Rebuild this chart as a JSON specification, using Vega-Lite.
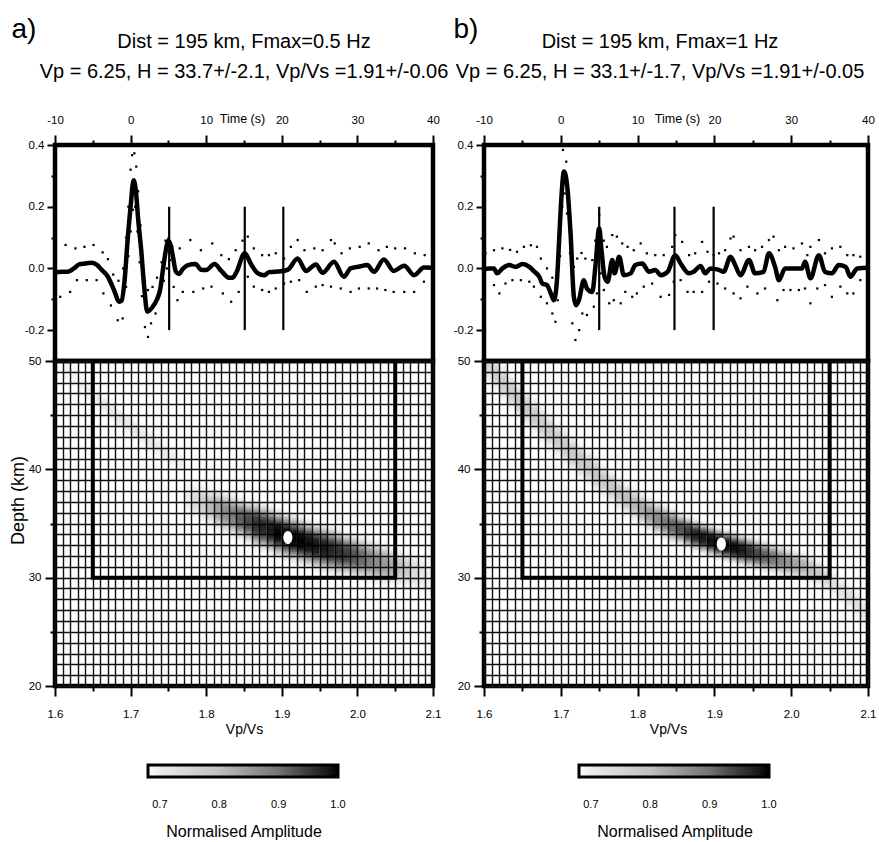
{
"$schema": "https://vega.github.io/schema/vega-lite/v6.json",
"background": "white",
"padding": {"left": 7, "top": 12, "right": 5, "bottom": 0},
"config": {
 "view": {"stroke": "black", "strokeWidth": 4.5},
 "axis": {"domain": false, "grid": false, "tickColor": "black", "tickWidth": 2, "labelFont": "Liberation Sans", "labelFontSize": 11.5, "labelColor": "black", "titleColor": "black", "titleFontWeight": "normal", "titleFont": "Liberation Sans", "labelFlush": false, "labelOverlap": false},
 "title": {"fontWeight": "normal", "color": "black"}
},
"datasets": {
 "wave": [
  {"p":"a","s":"m","t":-10,"v":-0.012},{"p":"a","s":"m","t":-9,"v":-0.011},{"p":"a","s":"m","t":-8.2,"v":-0.01},{"p":"a","s":"m","t":-7.5,"v":0.0},{"p":"a","s":"m","t":-6.8,"v":0.013},{"p":"a","s":"m","t":-6,"v":0.016},{"p":"a","s":"m","t":-5.2,"v":0.018},{"p":"a","s":"m","t":-4.5,"v":0.012},{"p":"a","s":"m","t":-3.8,"v":-0.005},{"p":"a","s":"m","t":-3,"v":-0.027},{"p":"a","s":"m","t":-2.2,"v":-0.07},{"p":"a","s":"m","t":-1.5,"v":-0.108},{"p":"a","s":"m","t":-1.2,"v":-0.105},{"p":"a","s":"m","t":-0.8,"v":-0.04},{"p":"a","s":"m","t":-0.4,"v":0.09},{"p":"a","s":"m","t":0,"v":0.2},{"p":"a","s":"m","t":0.4,"v":0.286},{"p":"a","s":"m","t":0.7,"v":0.25},{"p":"a","s":"m","t":1.0,"v":0.16},{"p":"a","s":"m","t":1.4,"v":0.06},{"p":"a","s":"m","t":1.8,"v":-0.06},{"p":"a","s":"m","t":2.2,"v":-0.14},{"p":"a","s":"m","t":2.9,"v":-0.125},{"p":"a","s":"m","t":3.5,"v":-0.1},{"p":"a","s":"m","t":3.9,"v":-0.07},{"p":"a","s":"m","t":4.3,"v":0.0},{"p":"a","s":"m","t":4.6,"v":0.05},{"p":"a","s":"m","t":5.0,"v":0.09},{"p":"a","s":"m","t":5.3,"v":0.075},{"p":"a","s":"m","t":5.6,"v":0.038},{"p":"a","s":"m","t":6.0,"v":-0.011},{"p":"a","s":"m","t":6.4,"v":-0.018},{"p":"a","s":"m","t":6.9,"v":-0.002},{"p":"a","s":"m","t":7.5,"v":0.01},{"p":"a","s":"m","t":8.6,"v":0.014},{"p":"a","s":"m","t":9.3,"v":-0.004},{"p":"a","s":"m","t":10,"v":-0.005},{"p":"a","s":"m","t":11.1,"v":0.014},{"p":"a","s":"m","t":12,"v":-0.008},{"p":"a","s":"m","t":13,"v":-0.03},{"p":"a","s":"m","t":13.5,"v":-0.03},{"p":"a","s":"m","t":14,"v":-0.012},{"p":"a","s":"m","t":15.1,"v":0.049},{"p":"a","s":"m","t":15.9,"v":0.015},{"p":"a","s":"m","t":16.8,"v":-0.015},{"p":"a","s":"m","t":17.7,"v":-0.022},{"p":"a","s":"m","t":18.3,"v":-0.012},{"p":"a","s":"m","t":19.9,"v":-0.009},{"p":"a","s":"m","t":20.8,"v":-0.004},{"p":"a","s":"m","t":22.1,"v":0.032},{"p":"a","s":"m","t":23.2,"v":-0.008},{"p":"a","s":"m","t":24.5,"v":0.013},{"p":"a","s":"m","t":25.4,"v":-0.014},{"p":"a","s":"m","t":26.9,"v":0.022},{"p":"a","s":"m","t":28.2,"v":-0.027},{"p":"a","s":"m","t":29.1,"v":0.0},{"p":"a","s":"m","t":30.3,"v":0.006},{"p":"a","s":"m","t":31.3,"v":0.011},{"p":"a","s":"m","t":32.2,"v":-0.011},{"p":"a","s":"m","t":33.5,"v":0.029},{"p":"a","s":"m","t":34.8,"v":-0.008},{"p":"a","s":"m","t":36.2,"v":0.009},{"p":"a","s":"m","t":37.5,"v":-0.022},{"p":"a","s":"m","t":38.8,"v":0.003},{"p":"a","s":"m","t":40,"v":0.002},
  {"p":"a","s":"u","t":-10,"v":0.082},{"p":"a","s":"u","t":-8.6,"v":0.076},{"p":"a","s":"u","t":-7.3,"v":0.065},{"p":"a","s":"u","t":-6.1,"v":0.07},{"p":"a","s":"u","t":-4.9,"v":0.076},{"p":"a","s":"u","t":-3.7,"v":0.052},{"p":"a","s":"u","t":-3.0,"v":0.03},{"p":"a","s":"u","t":-2.3,"v":-0.02},{"p":"a","s":"u","t":-1.6,"v":-0.04},{"p":"a","s":"u","t":-1.0,"v":0.0},{"p":"a","s":"u","t":-0.6,"v":0.1},{"p":"a","s":"u","t":-0.3,"v":0.2},{"p":"a","s":"u","t":0.0,"v":0.32},{"p":"a","s":"u","t":0.2,"v":0.367},{"p":"a","s":"u","t":0.5,"v":0.373},{"p":"a","s":"u","t":0.75,"v":0.33},{"p":"a","s":"u","t":1.0,"v":0.25},{"p":"a","s":"u","t":1.3,"v":0.14},{"p":"a","s":"u","t":1.6,"v":0.04},{"p":"a","s":"u","t":1.9,"v":-0.04},{"p":"a","s":"u","t":2.3,"v":-0.07},{"p":"a","s":"u","t":2.9,"v":-0.06},{"p":"a","s":"u","t":3.5,"v":-0.03},{"p":"a","s":"u","t":4.1,"v":0.02},{"p":"a","s":"u","t":4.6,"v":0.09},{"p":"a","s":"u","t":5.0,"v":0.097},{"p":"a","s":"u","t":5.5,"v":0.07},{"p":"a","s":"u","t":6.5,"v":0.065},{"p":"a","s":"u","t":7.9,"v":0.092},{"p":"a","s":"u","t":9.3,"v":0.059},{"p":"a","s":"u","t":10.8,"v":0.081},{"p":"a","s":"u","t":12.0,"v":0.043},{"p":"a","s":"u","t":13.0,"v":0.03},{"p":"a","s":"u","t":13.9,"v":0.059},{"p":"a","s":"u","t":14.8,"v":0.09},{"p":"a","s":"u","t":15.5,"v":0.103},{"p":"a","s":"u","t":16.3,"v":0.065},{"p":"a","s":"u","t":17.4,"v":0.043},{"p":"a","s":"u","t":18.3,"v":0.043},{"p":"a","s":"u","t":19.2,"v":0.049},{"p":"a","s":"u","t":20.3,"v":0.032},{"p":"a","s":"u","t":21.2,"v":0.07},{"p":"a","s":"u","t":22.1,"v":0.092},{"p":"a","s":"u","t":23.0,"v":0.059},{"p":"a","s":"u","t":24.3,"v":0.065},{"p":"a","s":"u","t":25.4,"v":0.059},{"p":"a","s":"u","t":26.5,"v":0.092},{"p":"a","s":"u","t":27.0,"v":0.081},{"p":"a","s":"u","t":27.9,"v":0.049},{"p":"a","s":"u","t":29.0,"v":0.065},{"p":"a","s":"u","t":30.3,"v":0.07},{"p":"a","s":"u","t":31.5,"v":0.081},{"p":"a","s":"u","t":32.8,"v":0.059},{"p":"a","s":"u","t":33.9,"v":0.07},{"p":"a","s":"u","t":35.0,"v":0.065},{"p":"a","s":"u","t":36.3,"v":0.065},{"p":"a","s":"u","t":37.6,"v":0.049},{"p":"a","s":"u","t":38.9,"v":0.043},
  {"p":"a","s":"l","t":-9.3,"v":-0.092},{"p":"a","s":"l","t":-8.0,"v":-0.076},{"p":"a","s":"l","t":-7.1,"v":-0.038},{"p":"a","s":"l","t":-5.8,"v":-0.038},{"p":"a","s":"l","t":-4.5,"v":-0.038},{"p":"a","s":"l","t":-3.6,"v":-0.081},{"p":"a","s":"l","t":-2.6,"v":-0.12},{"p":"a","s":"l","t":-1.7,"v":-0.168},{"p":"a","s":"l","t":-1.05,"v":-0.162},{"p":"a","s":"l","t":-0.6,"v":-0.06},{"p":"a","s":"l","t":-0.3,"v":0.04},{"p":"a","s":"l","t":0.0,"v":0.12},{"p":"a","s":"l","t":0.3,"v":0.19},{"p":"a","s":"l","t":0.6,"v":0.2},{"p":"a","s":"l","t":0.9,"v":0.12},{"p":"a","s":"l","t":1.2,"v":0.02},{"p":"a","s":"l","t":1.5,"v":-0.09},{"p":"a","s":"l","t":1.9,"v":-0.19},{"p":"a","s":"l","t":2.3,"v":-0.222},{"p":"a","s":"l","t":2.7,"v":-0.178},{"p":"a","s":"l","t":3.3,"v":-0.146},{"p":"a","s":"l","t":3.8,"v":-0.081},{"p":"a","s":"l","t":4.4,"v":-0.04},{"p":"a","s":"l","t":4.8,"v":0.0},{"p":"a","s":"l","t":5.2,"v":0.027},{"p":"a","s":"l","t":5.7,"v":-0.06},{"p":"a","s":"l","t":6.2,"v":-0.103},{"p":"a","s":"l","t":6.9,"v":-0.076},{"p":"a","s":"l","t":8.3,"v":-0.076},{"p":"a","s":"l","t":9.6,"v":-0.065},{"p":"a","s":"l","t":10.7,"v":-0.059},{"p":"a","s":"l","t":12.2,"v":-0.081},{"p":"a","s":"l","t":13.3,"v":-0.108},{"p":"a","s":"l","t":14.3,"v":-0.076},{"p":"a","s":"l","t":15.5,"v":-0.027},{"p":"a","s":"l","t":16.3,"v":-0.059},{"p":"a","s":"l","t":17.4,"v":-0.07},{"p":"a","s":"l","t":18.3,"v":-0.076},{"p":"a","s":"l","t":19.2,"v":-0.065},{"p":"a","s":"l","t":20.3,"v":-0.049},{"p":"a","s":"l","t":21.2,"v":-0.043},{"p":"a","s":"l","t":22.3,"v":-0.038},{"p":"a","s":"l","t":23.3,"v":-0.076},{"p":"a","s":"l","t":24.5,"v":-0.059},{"p":"a","s":"l","t":25.4,"v":-0.054},{"p":"a","s":"l","t":26.5,"v":-0.059},{"p":"a","s":"l","t":27.8,"v":-0.065},{"p":"a","s":"l","t":29.1,"v":-0.076},{"p":"a","s":"l","t":30.2,"v":-0.065},{"p":"a","s":"l","t":31.5,"v":-0.065},{"p":"a","s":"l","t":32.6,"v":-0.065},{"p":"a","s":"l","t":33.7,"v":-0.07},{"p":"a","s":"l","t":34.8,"v":-0.076},{"p":"a","s":"l","t":36.2,"v":-0.076},{"p":"a","s":"l","t":37.5,"v":-0.076},{"p":"a","s":"l","t":38.8,"v":-0.043},
  {"p":"b","s":"m","t":-10,"v":-0.003},{"p":"b","s":"m","t":-9.3,"v":0.0},{"p":"b","s":"m","t":-8.7,"v":0.0},{"p":"b","s":"m","t":-8.3,"v":-0.016},{"p":"b","s":"m","t":-7.6,"v":0.0},{"p":"b","s":"m","t":-6.7,"v":0.011},{"p":"b","s":"m","t":-5.9,"v":0.005},{"p":"b","s":"m","t":-5.0,"v":0.014},{"p":"b","s":"m","t":-4.1,"v":0.005},{"p":"b","s":"m","t":-3.5,"v":-0.009},{"p":"b","s":"m","t":-2.8,"v":-0.027},{"p":"b","s":"m","t":-2.4,"v":-0.049},{"p":"b","s":"m","t":-1.8,"v":-0.054},{"p":"b","s":"m","t":-1.3,"v":-0.081},{"p":"b","s":"m","t":-0.9,"v":-0.103},{"p":"b","s":"m","t":-0.5,"v":-0.038},{"p":"b","s":"m","t":-0.2,"v":0.1},{"p":"b","s":"m","t":0.06,"v":0.222},{"p":"b","s":"m","t":0.41,"v":0.314},{"p":"b","s":"m","t":0.84,"v":0.265},{"p":"b","s":"m","t":1.27,"v":0.114},{"p":"b","s":"m","t":1.7,"v":-0.092},{"p":"b","s":"m","t":2.0,"v":-0.119},{"p":"b","s":"m","t":2.36,"v":-0.103},{"p":"b","s":"m","t":3.0,"v":-0.038},{"p":"b","s":"m","t":3.4,"v":-0.065},{"p":"b","s":"m","t":4.1,"v":-0.076},{"p":"b","s":"m","t":4.5,"v":0.005},{"p":"b","s":"m","t":5.0,"v":0.13},{"p":"b","s":"m","t":5.3,"v":0.059},{"p":"b","s":"m","t":5.7,"v":-0.027},{"p":"b","s":"m","t":6.1,"v":-0.043},{"p":"b","s":"m","t":6.7,"v":0.027},{"p":"b","s":"m","t":7.0,"v":-0.016},{"p":"b","s":"m","t":7.6,"v":0.038},{"p":"b","s":"m","t":8.2,"v":-0.022},{"p":"b","s":"m","t":9.1,"v":-0.016},{"p":"b","s":"m","t":9.7,"v":0.011},{"p":"b","s":"m","t":10.6,"v":0.016},{"p":"b","s":"m","t":11.5,"v":-0.011},{"p":"b","s":"m","t":12.3,"v":-0.005},{"p":"b","s":"m","t":13.0,"v":-0.022},{"p":"b","s":"m","t":13.9,"v":-0.011},{"p":"b","s":"m","t":14.9,"v":0.043},{"p":"b","s":"m","t":15.6,"v":0.016},{"p":"b","s":"m","t":16.7,"v":-0.016},{"p":"b","s":"m","t":17.3,"v":-0.011},{"p":"b","s":"m","t":18.2,"v":0.008},{"p":"b","s":"m","t":18.8,"v":-0.016},{"p":"b","s":"m","t":19.5,"v":0.0},{"p":"b","s":"m","t":20.6,"v":-0.005},{"p":"b","s":"m","t":21.2,"v":-0.011},{"p":"b","s":"m","t":22.1,"v":0.038},{"p":"b","s":"m","t":22.7,"v":0.011},{"p":"b","s":"m","t":23.4,"v":-0.022},{"p":"b","s":"m","t":24.5,"v":0.027},{"p":"b","s":"m","t":25.3,"v":-0.016},{"p":"b","s":"m","t":26.4,"v":-0.011},{"p":"b","s":"m","t":27.1,"v":0.049},{"p":"b","s":"m","t":27.9,"v":0.005},{"p":"b","s":"m","t":28.4,"v":-0.038},{"p":"b","s":"m","t":29.2,"v":0.0},{"p":"b","s":"m","t":30.3,"v":0.0},{"p":"b","s":"m","t":31.4,"v":0.0},{"p":"b","s":"m","t":31.8,"v":0.022},{"p":"b","s":"m","t":32.5,"v":-0.032},{"p":"b","s":"m","t":33.6,"v":0.043},{"p":"b","s":"m","t":34.4,"v":-0.011},{"p":"b","s":"m","t":35.3,"v":-0.016},{"p":"b","s":"m","t":36.2,"v":0.011},{"p":"b","s":"m","t":37.1,"v":0.005},{"p":"b","s":"m","t":37.7,"v":-0.027},{"p":"b","s":"m","t":38.6,"v":0.0},{"p":"b","s":"m","t":40,"v":0.002},
  {"p":"b","s":"u","t":-9.8,"v":0.049},{"p":"b","s":"u","t":-8.7,"v":0.059},{"p":"b","s":"u","t":-7.6,"v":0.065},{"p":"b","s":"u","t":-6.6,"v":0.06},{"p":"b","s":"u","t":-5.7,"v":0.054},{"p":"b","s":"u","t":-4.8,"v":0.07},{"p":"b","s":"u","t":-3.9,"v":0.075},{"p":"b","s":"u","t":-3.1,"v":0.07},{"p":"b","s":"u","t":-2.6,"v":0.032},{"p":"b","s":"u","t":-1.8,"v":0.0},{"p":"b","s":"u","t":-1.1,"v":-0.03},{"p":"b","s":"u","t":-0.46,"v":-0.005},{"p":"b","s":"u","t":-0.1,"v":0.124},{"p":"b","s":"u","t":0.1,"v":0.25},{"p":"b","s":"u","t":0.28,"v":0.384},{"p":"b","s":"u","t":0.71,"v":0.346},{"p":"b","s":"u","t":1.06,"v":0.243},{"p":"b","s":"u","t":1.4,"v":0.11},{"p":"b","s":"u","t":1.7,"v":0.005},{"p":"b","s":"u","t":2.14,"v":0.032},{"p":"b","s":"u","t":2.7,"v":0.05},{"p":"b","s":"u","t":3.2,"v":0.032},{"p":"b","s":"u","t":4.1,"v":0.027},{"p":"b","s":"u","t":4.5,"v":0.09},{"p":"b","s":"u","t":5.0,"v":0.173},{"p":"b","s":"u","t":5.6,"v":0.09},{"p":"b","s":"u","t":6.0,"v":0.07},{"p":"b","s":"u","t":6.7,"v":0.108},{"p":"b","s":"u","t":7.3,"v":0.103},{"p":"b","s":"u","t":8.0,"v":0.081},{"p":"b","s":"u","t":8.7,"v":0.07},{"p":"b","s":"u","t":9.5,"v":0.059},{"p":"b","s":"u","t":10.4,"v":0.081},{"p":"b","s":"u","t":11.2,"v":0.049},{"p":"b","s":"u","t":12.3,"v":0.043},{"p":"b","s":"u","t":13.4,"v":0.043},{"p":"b","s":"u","t":14.5,"v":0.07},{"p":"b","s":"u","t":14.9,"v":0.108},{"p":"b","s":"u","t":15.8,"v":0.086},{"p":"b","s":"u","t":16.7,"v":0.043},{"p":"b","s":"u","t":17.5,"v":0.049},{"p":"b","s":"u","t":18.4,"v":0.086},{"p":"b","s":"u","t":19.1,"v":0.054},{"p":"b","s":"u","t":19.9,"v":0.043},{"p":"b","s":"u","t":20.6,"v":0.049},{"p":"b","s":"u","t":21.4,"v":0.059},{"p":"b","s":"u","t":22.1,"v":0.097},{"p":"b","s":"u","t":22.5,"v":0.103},{"p":"b","s":"u","t":23.4,"v":0.059},{"p":"b","s":"u","t":24.5,"v":0.07},{"p":"b","s":"u","t":25.3,"v":0.059},{"p":"b","s":"u","t":26.2,"v":0.07},{"p":"b","s":"u","t":27.1,"v":0.092},{"p":"b","s":"u","t":27.7,"v":0.103},{"p":"b","s":"u","t":28.4,"v":0.059},{"p":"b","s":"u","t":29.2,"v":0.07},{"p":"b","s":"u","t":30.3,"v":0.065},{"p":"b","s":"u","t":31.4,"v":0.081},{"p":"b","s":"u","t":32.1,"v":0.043},{"p":"b","s":"u","t":32.5,"v":0.07},{"p":"b","s":"u","t":33.6,"v":0.092},{"p":"b","s":"u","t":34.4,"v":0.049},{"p":"b","s":"u","t":35.3,"v":0.065},{"p":"b","s":"u","t":36.4,"v":0.07},{"p":"b","s":"u","t":37.3,"v":0.043},{"p":"b","s":"u","t":38.1,"v":0.043},{"p":"b","s":"u","t":39.0,"v":0.038},
  {"p":"b","s":"l","t":-8.7,"v":-0.054},{"p":"b","s":"l","t":-8.0,"v":-0.081},{"p":"b","s":"l","t":-7.2,"v":-0.049},{"p":"b","s":"l","t":-6.3,"v":-0.038},{"p":"b","s":"l","t":-5.2,"v":-0.038},{"p":"b","s":"l","t":-4.1,"v":-0.043},{"p":"b","s":"l","t":-3.5,"v":-0.059},{"p":"b","s":"l","t":-2.6,"v":-0.092},{"p":"b","s":"l","t":-1.8,"v":-0.113},{"p":"b","s":"l","t":-1.1,"v":-0.146},{"p":"b","s":"l","t":-0.7,"v":-0.173},{"p":"b","s":"l","t":-0.4,"v":-0.103},{"p":"b","s":"l","t":-0.1,"v":0.04},{"p":"b","s":"l","t":0.2,"v":0.2},{"p":"b","s":"l","t":0.5,"v":0.243},{"p":"b","s":"l","t":0.8,"v":0.178},{"p":"b","s":"l","t":1.2,"v":0.049},{"p":"b","s":"l","t":1.5,"v":-0.178},{"p":"b","s":"l","t":1.9,"v":-0.232},{"p":"b","s":"l","t":2.4,"v":-0.2},{"p":"b","s":"l","t":2.8,"v":-0.146},{"p":"b","s":"l","t":3.4,"v":-0.151},{"p":"b","s":"l","t":4.3,"v":-0.124},{"p":"b","s":"l","t":4.7,"v":-0.081},{"p":"b","s":"l","t":5.2,"v":-0.016},{"p":"b","s":"l","t":5.6,"v":-0.07},{"p":"b","s":"l","t":6.3,"v":-0.113},{"p":"b","s":"l","t":6.9,"v":-0.103},{"p":"b","s":"l","t":7.8,"v":-0.113},{"p":"b","s":"l","t":8.4,"v":-0.076},{"p":"b","s":"l","t":9.3,"v":-0.092},{"p":"b","s":"l","t":9.9,"v":-0.081},{"p":"b","s":"l","t":10.8,"v":-0.059},{"p":"b","s":"l","t":11.9,"v":-0.049},{"p":"b","s":"l","t":13.0,"v":-0.092},{"p":"b","s":"l","t":14.1,"v":-0.086},{"p":"b","s":"l","t":14.7,"v":-0.043},{"p":"b","s":"l","t":15.6,"v":-0.038},{"p":"b","s":"l","t":16.5,"v":-0.076},{"p":"b","s":"l","t":17.3,"v":-0.076},{"p":"b","s":"l","t":18.4,"v":-0.076},{"p":"b","s":"l","t":19.3,"v":-0.043},{"p":"b","s":"l","t":20.4,"v":-0.049},{"p":"b","s":"l","t":21.4,"v":-0.065},{"p":"b","s":"l","t":22.5,"v":-0.081},{"p":"b","s":"l","t":23.4,"v":-0.097},{"p":"b","s":"l","t":24.3,"v":-0.059},{"p":"b","s":"l","t":25.6,"v":-0.081},{"p":"b","s":"l","t":26.6,"v":-0.065},{"p":"b","s":"l","t":28.2,"v":-0.103},{"p":"b","s":"l","t":29.0,"v":-0.07},{"p":"b","s":"l","t":29.9,"v":-0.07},{"p":"b","s":"l","t":31.0,"v":-0.07},{"p":"b","s":"l","t":31.8,"v":-0.065},{"p":"b","s":"l","t":32.5,"v":-0.113},{"p":"b","s":"l","t":33.4,"v":-0.065},{"p":"b","s":"l","t":34.4,"v":-0.054},{"p":"b","s":"l","t":35.3,"v":-0.092},{"p":"b","s":"l","t":36.4,"v":-0.059},{"p":"b","s":"l","t":37.3,"v":-0.081},{"p":"b","s":"l","t":38.1,"v":-0.081},{"p":"b","s":"l","t":39.0,"v":-0.038}
 ],
 "picks": [{"p":"a","t":5.1},{"p":"a","t":15.1},{"p":"a","t":20.2},{"p":"b","t":5.0},{"p":"b","t":14.8},{"p":"b","t":19.9}],
 "best": [{"p":"a","k":1.908,"d":33.7},{"p":"b","k":1.909,"d":33.1}],
 "box": [{"k1":1.65,"k2":2.05,"d1":30,"d2":50}],
 "stack": [
  {"p":"a","k":1.61,"k2":1.62,"lo":48.0,"hi":50.6,"a":0.705},{"p":"a","k":1.62,"k2":1.63,"lo":47.3,"hi":49.9,"a":0.705},{"p":"a","k":1.63,"k2":1.64,"lo":46.6,"hi":49.2,"a":0.705},{"p":"a","k":1.64,"k2":1.65,"lo":45.9,"hi":48.5,"a":0.71},{"p":"a","k":1.65,"k2":1.66,"lo":45.25,"hi":47.85,"a":0.715},{"p":"a","k":1.66,"k2":1.67,"lo":44.65,"hi":47.25,"a":0.72},{"p":"a","k":1.67,"k2":1.68,"lo":44.05,"hi":46.65,"a":0.725},{"p":"a","k":1.68,"k2":1.69,"lo":43.45,"hi":46.05,"a":0.725},{"p":"a","k":1.69,"k2":1.7,"lo":42.9,"hi":45.5,"a":0.725},{"p":"a","k":1.7,"k2":1.71,"lo":42.35,"hi":44.95,"a":0.725},{"p":"a","k":1.71,"k2":1.72,"lo":41.8,"hi":44.4,"a":0.725},{"p":"a","k":1.72,"k2":1.73,"lo":41.3,"hi":43.9,"a":0.725},{"p":"a","k":1.73,"k2":1.74,"lo":40.8,"hi":43.4,"a":0.72},{"p":"a","k":1.74,"k2":1.75,"lo":40.3,"hi":42.9,"a":0.72},{"p":"a","k":1.75,"k2":1.76,"lo":39.8,"hi":42.4,"a":0.715},{"p":"a","k":1.76,"k2":1.77,"lo":39.3,"hi":41.9,"a":0.71},
  {"p":"a","k":1.77,"k2":1.78,"lo":35.2,"hi":39.4,"a":0.72},{"p":"a","k":1.78,"k2":1.79,"lo":34.96,"hi":39.16,"a":0.75},{"p":"a","k":1.79,"k2":1.8,"lo":34.72,"hi":38.92,"a":0.78},{"p":"a","k":1.8,"k2":1.81,"lo":34.46,"hi":38.66,"a":0.81},{"p":"a","k":1.81,"k2":1.82,"lo":33.98,"hi":38.58,"a":0.84},{"p":"a","k":1.82,"k2":1.83,"lo":33.7,"hi":38.3,"a":0.87},{"p":"a","k":1.83,"k2":1.84,"lo":33.42,"hi":38.02,"a":0.89},{"p":"a","k":1.84,"k2":1.85,"lo":33.14,"hi":37.74,"a":0.92},{"p":"a","k":1.85,"k2":1.86,"lo":32.87,"hi":37.47,"a":0.94},{"p":"a","k":1.86,"k2":1.87,"lo":32.4,"hi":37.4,"a":0.96},{"p":"a","k":1.87,"k2":1.88,"lo":32.13,"hi":37.13,"a":0.97},{"p":"a","k":1.88,"k2":1.89,"lo":31.87,"hi":36.87,"a":0.98},{"p":"a","k":1.89,"k2":1.9,"lo":31.6,"hi":36.6,"a":1.0},{"p":"a","k":1.9,"k2":1.91,"lo":31.33,"hi":36.33,"a":1.0},{"p":"a","k":1.91,"k2":1.92,"lo":31.09,"hi":36.09,"a":1.0},{"p":"a","k":1.92,"k2":1.93,"lo":30.86,"hi":35.86,"a":1.0},{"p":"a","k":1.93,"k2":1.94,"lo":30.64,"hi":35.64,"a":0.99},{"p":"a","k":1.94,"k2":1.95,"lo":30.41,"hi":35.41,"a":0.985},{"p":"a","k":1.95,"k2":1.96,"lo":30.21,"hi":35.21,"a":0.98},{"p":"a","k":1.96,"k2":1.97,"lo":30.03,"hi":35.03,"a":0.97},{"p":"a","k":1.97,"k2":1.98,"lo":29.85,"hi":34.85,"a":0.96},{"p":"a","k":1.98,"k2":1.99,"lo":29.87,"hi":34.47,"a":0.95},{"p":"a","k":1.99,"k2":2.0,"lo":29.69,"hi":34.29,"a":0.93},{"p":"a","k":2.0,"k2":2.01,"lo":29.51,"hi":34.11,"a":0.91},{"p":"a","k":2.01,"k2":2.02,"lo":29.33,"hi":33.93,"a":0.89},{"p":"a","k":2.02,"k2":2.03,"lo":29.15,"hi":33.75,"a":0.87},{"p":"a","k":2.03,"k2":2.04,"lo":28.97,"hi":33.57,"a":0.85},{"p":"a","k":2.04,"k2":2.05,"lo":28.99,"hi":33.19,"a":0.83},{"p":"a","k":2.05,"k2":2.06,"lo":28.81,"hi":33.01,"a":0.8},{"p":"a","k":2.06,"k2":2.07,"lo":28.63,"hi":32.83,"a":0.78},{"p":"a","k":2.07,"k2":2.08,"lo":28.45,"hi":32.65,"a":0.75},{"p":"a","k":2.08,"k2":2.09,"lo":28.27,"hi":32.47,"a":0.73},{"p":"a","k":2.09,"k2":2.1,"lo":28.1,"hi":32.3,"a":0.71},
  {"p":"b","k":1.6,"k2":1.61,"lo":47.5,"hi":51.7,"a":0.76},{"p":"b","k":1.61,"k2":1.62,"lo":46.68,"hi":50.88,"a":0.77},{"p":"b","k":1.62,"k2":1.63,"lo":45.87,"hi":50.07,"a":0.78},{"p":"b","k":1.63,"k2":1.64,"lo":45.07,"hi":49.27,"a":0.78},{"p":"b","k":1.64,"k2":1.65,"lo":44.29,"hi":48.49,"a":0.78},{"p":"b","k":1.65,"k2":1.66,"lo":43.53,"hi":47.73,"a":0.78},{"p":"b","k":1.66,"k2":1.67,"lo":42.79,"hi":46.99,"a":0.78},{"p":"b","k":1.67,"k2":1.68,"lo":42.07,"hi":46.27,"a":0.78},{"p":"b","k":1.68,"k2":1.69,"lo":41.37,"hi":45.57,"a":0.78},{"p":"b","k":1.69,"k2":1.7,"lo":40.68,"hi":44.88,"a":0.78},{"p":"b","k":1.7,"k2":1.71,"lo":40.01,"hi":44.21,"a":0.78},{"p":"b","k":1.71,"k2":1.72,"lo":39.35,"hi":43.55,"a":0.785},{"p":"b","k":1.72,"k2":1.73,"lo":38.71,"hi":42.91,"a":0.785},{"p":"b","k":1.73,"k2":1.74,"lo":38.08,"hi":42.28,"a":0.785},{"p":"b","k":1.74,"k2":1.75,"lo":37.46,"hi":41.66,"a":0.785},{"p":"b","k":1.75,"k2":1.76,"lo":37.06,"hi":40.86,"a":0.785},{"p":"b","k":1.76,"k2":1.77,"lo":36.48,"hi":40.28,"a":0.785},{"p":"b","k":1.77,"k2":1.78,"lo":35.92,"hi":39.72,"a":0.79},{"p":"b","k":1.78,"k2":1.79,"lo":35.38,"hi":39.18,"a":0.8},{"p":"b","k":1.79,"k2":1.8,"lo":34.87,"hi":38.67,"a":0.81},{"p":"b","k":1.8,"k2":1.81,"lo":34.39,"hi":38.19,"a":0.83},{"p":"b","k":1.81,"k2":1.82,"lo":33.95,"hi":37.75,"a":0.85},{"p":"b","k":1.82,"k2":1.83,"lo":33.55,"hi":37.35,"a":0.87},{"p":"b","k":1.83,"k2":1.84,"lo":33.2,"hi":37.0,"a":0.89},{"p":"b","k":1.84,"k2":1.85,"lo":32.88,"hi":36.68,"a":0.91},{"p":"b","k":1.85,"k2":1.86,"lo":32.78,"hi":36.18,"a":0.93},{"p":"b","k":1.86,"k2":1.87,"lo":32.5,"hi":35.9,"a":0.95},{"p":"b","k":1.87,"k2":1.88,"lo":32.23,"hi":35.63,"a":0.97},{"p":"b","k":1.88,"k2":1.89,"lo":31.97,"hi":35.37,"a":0.98},{"p":"b","k":1.89,"k2":1.9,"lo":31.72,"hi":35.12,"a":0.99},{"p":"b","k":1.9,"k2":1.91,"lo":31.48,"hi":34.88,"a":1.0},{"p":"b","k":1.91,"k2":1.92,"lo":31.26,"hi":34.66,"a":1.0},{"p":"b","k":1.92,"k2":1.93,"lo":31.05,"hi":34.45,"a":0.99},{"p":"b","k":1.93,"k2":1.94,"lo":30.85,"hi":34.25,"a":0.98},{"p":"b","k":1.94,"k2":1.95,"lo":30.66,"hi":34.06,"a":0.96},{"p":"b","k":1.95,"k2":1.96,"lo":30.47,"hi":33.87,"a":0.94},{"p":"b","k":1.96,"k2":1.97,"lo":30.28,"hi":33.68,"a":0.92},{"p":"b","k":1.97,"k2":1.98,"lo":30.1,"hi":33.5,"a":0.9},{"p":"b","k":1.98,"k2":1.99,"lo":29.91,"hi":33.31,"a":0.88},{"p":"b","k":1.99,"k2":2.0,"lo":29.73,"hi":33.13,"a":0.86},{"p":"b","k":2.0,"k2":2.01,"lo":29.65,"hi":32.85,"a":0.84},{"p":"b","k":2.01,"k2":2.02,"lo":29.45,"hi":32.65,"a":0.82},{"p":"b","k":2.02,"k2":2.03,"lo":29.2,"hi":32.4,"a":0.8},{"p":"b","k":2.03,"k2":2.04,"lo":28.85,"hi":32.05,"a":0.78},{"p":"b","k":2.04,"k2":2.05,"lo":28.4,"hi":31.6,"a":0.76},{"p":"b","k":2.05,"k2":2.06,"lo":27.8,"hi":31.0,"a":0.74},{"p":"b","k":2.06,"k2":2.07,"lo":27.2,"hi":30.4,"a":0.74},{"p":"b","k":2.07,"k2":2.08,"lo":26.6,"hi":29.8,"a":0.74},{"p":"b","k":2.08,"k2":2.09,"lo":25.95,"hi":29.15,"a":0.735},{"p":"b","k":2.09,"k2":2.1,"lo":25.3,"hi":28.5,"a":0.73}
 ]
},
"columns": 2,
"spacing": {"row": 0, "column": 51},
"bounds": "flush",
"resolve": {"scale": {"color": "independent", "opacity": "independent"}, "legend": {"color": "independent"}},
"concat": [
 {
  "width": 378, "height": 216,
  "title": {"text": ["Dist = 195 km, Fmax=0.5 Hz", "Vp = 6.25, H = 33.7+/-2.1, Vp/Vs =1.91+/-0.06"], "anchor": "middle", "font": "Liberation Sans", "fontSize": 20, "lineHeight": 30, "offset": -67},
  "resolve": {"axis": {"x": "independent", "y": "independent"}},
  "layer": [
   {"data": {"name": "wave"}, "transform": [{"filter": "datum.p == 'a' && datum.s == 'm'"}],
    "mark": {"type": "line", "color": "black", "strokeWidth": 4.5, "interpolate": "monotone", "clip": true, "strokeJoin": "round"},
    "encoding": {
     "x": {"field": "t", "type": "quantitative", "scale": {"domain": [-10, 40], "nice": false, "zero": false},
      "axis": {"orient": "top", "values": [-10,-5,0,5,10,15,20,25,30,35,40], "labelExpr": "datum.value % 10 == 0 ? '' + datum.value : ''", "tickSize": {"condition": {"test": "datum.value % 10 == 0", "value": 10}, "value": 5}, "labelPadding": 10, "title": "Time (s)", "titleX": 187, "titleY": -27, "titleBaseline": "middle", "titleAlign": "center", "titleFontSize": 12.5}},
     "y": {"field": "v", "type": "quantitative", "scale": {"domain": [-0.3, 0.4], "nice": false, "zero": false},
      "axis": {"values": [-0.2,-0.1,0,0.1,0.2,0.3,0.4], "labelExpr": "abs(round(datum.value*10)) % 2 == 0 ? (datum.value < 0 ? '-' : '') + format(abs(datum.value), '.1f') : ''", "tickSize": {"condition": {"test": "abs(round(datum.value*10)) % 2 == 0", "value": 8}, "value": 4}, "labelPadding": 3, "title": "a)", "titleFontSize": 28, "titleAngle": 0, "titleX": -44, "titleY": -108, "titleAlign": "left", "titleBaseline": "alphabetic"}}
    }},
   {"data": {"name": "wave"}, "transform": [{"filter": "datum.p == 'a' && datum.s != 'm'"}],
    "mark": {"type": "square", "size": 5, "color": "black", "opacity": 1, "clip": true},
    "encoding": {
     "x": {"field": "t", "type": "quantitative", "scale": {"domain": [-10, 40], "nice": false, "zero": false}, "axis": null},
     "y": {"field": "v", "type": "quantitative", "scale": {"domain": [-0.3, 0.4], "nice": false, "zero": false}, "axis": null}
    }},
   {"data": {"name": "picks"}, "transform": [{"filter": "datum.p == 'a'"}],
    "mark": {"type": "rule", "color": "black", "strokeWidth": 2.2},
    "encoding": {
     "x": {"field": "t", "type": "quantitative", "scale": {"domain": [-10, 40], "nice": false, "zero": false}, "axis": null},
     "y": {"datum": -0.2, "type": "quantitative", "scale": {"domain": [-0.3, 0.4], "nice": false, "zero": false}, "axis": null},
     "y2": {"datum": 0.2}
    }}
  ]
 },
 {
  "width": 384, "height": 216,
  "title": {"text": ["Dist = 195 km, Fmax=1 Hz", "Vp = 6.25, H = 33.1+/-1.7, Vp/Vs =1.91+/-0.05"], "anchor": "middle", "font": "Liberation Sans", "fontSize": 20, "lineHeight": 30, "offset": -67, "dx": -16},
  "resolve": {"axis": {"x": "independent", "y": "independent"}},
  "layer": [
   {"data": {"name": "wave"}, "transform": [{"filter": "datum.p == 'b' && datum.s == 'm'"}],
    "mark": {"type": "line", "color": "black", "strokeWidth": 4.5, "interpolate": "monotone", "clip": true, "strokeJoin": "round"},
    "encoding": {
     "x": {"field": "t", "type": "quantitative", "scale": {"domain": [-10, 40], "nice": false, "zero": false},
      "axis": {"orient": "top", "values": [-10,-5,0,5,10,15,20,25,30,35,40], "labelExpr": "datum.value % 10 == 0 ? '' + datum.value : ''", "tickSize": {"condition": {"test": "datum.value % 10 == 0", "value": 10}, "value": 5}, "labelPadding": 10, "title": "Time (s)", "titleX": 193, "titleY": -27, "titleBaseline": "middle", "titleAlign": "center", "titleFontSize": 12.5}},
     "y": {"field": "v", "type": "quantitative", "scale": {"domain": [-0.3, 0.4], "nice": false, "zero": false},
      "axis": {"values": [-0.2,-0.1,0,0.1,0.2,0.3,0.4], "labelExpr": "abs(round(datum.value*10)) % 2 == 0 ? (datum.value < 0 ? '-' : '') + format(abs(datum.value), '.1f') : ''", "tickSize": {"condition": {"test": "abs(round(datum.value*10)) % 2 == 0", "value": 8}, "value": 4}, "labelPadding": 3, "title": "b)", "titleFontSize": 28, "titleAngle": 0, "titleX": -31, "titleY": -108, "titleAlign": "left", "titleBaseline": "alphabetic"}}
    }},
   {"data": {"name": "wave"}, "transform": [{"filter": "datum.p == 'b' && datum.s != 'm'"}],
    "mark": {"type": "square", "size": 5, "color": "black", "opacity": 1, "clip": true},
    "encoding": {
     "x": {"field": "t", "type": "quantitative", "scale": {"domain": [-10, 40], "nice": false, "zero": false}, "axis": null},
     "y": {"field": "v", "type": "quantitative", "scale": {"domain": [-0.3, 0.4], "nice": false, "zero": false}, "axis": null}
    }},
   {"data": {"name": "picks"}, "transform": [{"filter": "datum.p == 'b'"}],
    "mark": {"type": "rule", "color": "black", "strokeWidth": 2.2},
    "encoding": {
     "x": {"field": "t", "type": "quantitative", "scale": {"domain": [-10, 40], "nice": false, "zero": false}, "axis": null},
     "y": {"datum": -0.2, "type": "quantitative", "scale": {"domain": [-0.3, 0.4], "nice": false, "zero": false}, "axis": null},
     "y2": {"datum": 0.2}
    }}
  ]
 },
 {
  "width": 378, "height": 325,
  "resolve": {"axis": {"x": "independent", "y": "independent"}},
  "layer": [
   {"data": {"name": "stack"}, "transform": [{"filter": "datum.p == 'a'"}],
    "mark": {"type": "rect", "clip": true, "strokeWidth": 0, "fill": {"gradient": "linear", "x1": 0, "y1": 0, "x2": 0, "y2": 1, "stops": [{"offset": 0, "color": "rgba(0,0,0,0)"}, {"offset": 0.1, "color": "rgba(0,0,0,0.1)"}, {"offset": 0.2, "color": "rgba(0,0,0,0.35)"}, {"offset": 0.3, "color": "rgba(0,0,0,0.7)"}, {"offset": 0.38, "color": "rgba(0,0,0,0.93)"}, {"offset": 0.5, "color": "rgba(0,0,0,1)"}, {"offset": 0.62, "color": "rgba(0,0,0,0.93)"}, {"offset": 0.7, "color": "rgba(0,0,0,0.7)"}, {"offset": 0.8, "color": "rgba(0,0,0,0.35)"}, {"offset": 0.9, "color": "rgba(0,0,0,0.1)"}, {"offset": 1, "color": "rgba(0,0,0,0)"}]}},
    "encoding": {
     "x": {"field": "k", "type": "quantitative", "scale": {"domain": [1.6, 2.1], "nice": false, "zero": false},
      "axis": {"orient": "top", "values": [1.6,1.61,1.62,1.63,1.64,1.65,1.66,1.67,1.68,1.69,1.7,1.71,1.72,1.73,1.74,1.75,1.76,1.77,1.78,1.79,1.8,1.81,1.82,1.83,1.84,1.85,1.86,1.87,1.88,1.89,1.9,1.91,1.92,1.93,1.94,1.95,1.96,1.97,1.98,1.99,2.0,2.01,2.02,2.03,2.04,2.05,2.06,2.07,2.08,2.09,2.1], "grid": true, "gridColor": "#111111", "gridWidth": 1.4, "gridOpacity": 1, "labels": false, "ticks": false, "title": null}},
     "x2": {"field": "k2"},
     "y": {"field": "lo", "type": "quantitative", "scale": {"domain": [20, 50], "nice": false, "zero": false},
      "axis": {"orient": "right", "values": [20,21,22,23,24,25,26,27,28,29,30,31,32,33,34,35,36,37,38,39,40,41,42,43,44,45,46,47,48,49,50], "grid": true, "gridColor": "#111111", "gridWidth": 1.4, "gridOpacity": 1, "labels": false, "ticks": false, "title": null}},
     "y2": {"field": "hi"},
     "opacity": {"field": "a", "type": "quantitative", "scale": {"domain": [0.68, 0.8, 0.9, 1.0], "range": [0, 0.25, 0.55, 1]}, "legend": null}
    }},
   {"data": {"name": "stack"}, "transform": [{"filter": "datum.p == 'a'"}],
    "mark": {"type": "rect", "fillOpacity": 0, "strokeWidth": 0, "clip": true},
    "encoding": {
     "x": {"field": "k", "type": "quantitative", "scale": {"domain": [1.6, 2.1], "nice": false, "zero": false}, "axis": null},
     "x2": {"field": "k2"},
     "y": {"field": "lo", "type": "quantitative", "scale": {"domain": [20, 50], "nice": false, "zero": false}, "axis": null},
     "y2": {"field": "hi"},
     "color": {"field": "a", "type": "quantitative", "scale": {"domain": [0.68, 0.6999, 0.7, 0.8, 0.9, 1.0], "range": ["#ffffff", "#ffffff", "#ececec", "#bfbfbf", "#737373", "#000000"]},
      "legend": {"orient": "none", "legendX": 93, "legendY": 404, "direction": "horizontal", "gradientLength": 190, "gradientThickness": 12, "gradientStrokeColor": "black", "gradientStrokeWidth": 3, "values": [0.7, 0.8, 0.9, 0.9999], "format": ".1f", "labelFont": "Liberation Sans", "labelFontSize": 11, "labelOffset": 22, "labelAlign": "center", "labelColor": "black", "title": "Normalised Amplitude", "titleOrient": "bottom", "titleAnchor": "middle", "titleFont": "Liberation Sans", "titleFontSize": 16, "titleFontWeight": "normal", "titlePadding": 14, "titleColor": "black"}}
    }},
   {"data": {"name": "box"},
    "mark": {"type": "rect", "fillOpacity": 0, "stroke": "black", "strokeWidth": 4},
    "encoding": {
     "x": {"field": "k1", "type": "quantitative", "scale": {"domain": [1.6, 2.1], "nice": false, "zero": false},
      "axis": {"orient": "bottom", "values": [1.6,1.65,1.7,1.75,1.8,1.85,1.9,1.95,2.0,2.05,2.1], "labelExpr": "round(datum.value*100) % 10 == 0 ? format(datum.value, '.1f') : ''", "tickSize": {"condition": {"test": "round(datum.value*100) % 10 == 0", "value": 10}, "value": 5}, "labelPadding": 12, "title": "Vp/Vs", "titleX": 189, "titleY": 43, "titleBaseline": "middle", "titleAlign": "center", "titleFontSize": 14}},
     "x2": {"field": "k2"},
     "y": {"field": "d1", "type": "quantitative", "scale": {"domain": [20, 50], "nice": false, "zero": false},
      "axis": {"orient": "left", "values": [20,25,30,35,40,45,50], "labelExpr": "datum.value % 10 == 0 ? '' + datum.value : ''", "tickSize": {"condition": {"test": "datum.value % 10 == 0", "value": 10}, "value": 5}, "labelPadding": 4, "title": "Depth (km)", "titleFontSize": 18, "titleX": -36.5, "titleY": 139, "titleAngle": -90, "titleBaseline": "middle", "titleAlign": "center"}},
     "y2": {"field": "d2"}
    }},
   {"data": {"name": "best"}, "transform": [{"filter": "datum.p == 'a'"}],
    "mark": {"type": "point", "shape": "M0,-1A0.7,1,0,1,1,0,1A0.7,1,0,1,1,0,-1Z", "size": 170, "filled": true, "color": "white", "opacity": 1},
    "encoding": {
     "x": {"field": "k", "type": "quantitative", "scale": {"domain": [1.6, 2.1], "nice": false, "zero": false}, "axis": null},
     "y": {"field": "d", "type": "quantitative", "scale": {"domain": [20, 50], "nice": false, "zero": false}, "axis": null}
    }}
  ]
 },
 {
  "width": 384, "height": 325,
  "resolve": {"axis": {"x": "independent", "y": "independent"}},
  "layer": [
   {"data": {"name": "stack"}, "transform": [{"filter": "datum.p == 'b'"}],
    "mark": {"type": "rect", "clip": true, "strokeWidth": 0, "fill": {"gradient": "linear", "x1": 0, "y1": 0, "x2": 0, "y2": 1, "stops": [{"offset": 0, "color": "rgba(0,0,0,0)"}, {"offset": 0.1, "color": "rgba(0,0,0,0.1)"}, {"offset": 0.2, "color": "rgba(0,0,0,0.35)"}, {"offset": 0.3, "color": "rgba(0,0,0,0.7)"}, {"offset": 0.38, "color": "rgba(0,0,0,0.93)"}, {"offset": 0.5, "color": "rgba(0,0,0,1)"}, {"offset": 0.62, "color": "rgba(0,0,0,0.93)"}, {"offset": 0.7, "color": "rgba(0,0,0,0.7)"}, {"offset": 0.8, "color": "rgba(0,0,0,0.35)"}, {"offset": 0.9, "color": "rgba(0,0,0,0.1)"}, {"offset": 1, "color": "rgba(0,0,0,0)"}]}},
    "encoding": {
     "x": {"field": "k", "type": "quantitative", "scale": {"domain": [1.6, 2.1], "nice": false, "zero": false},
      "axis": {"orient": "top", "values": [1.6,1.61,1.62,1.63,1.64,1.65,1.66,1.67,1.68,1.69,1.7,1.71,1.72,1.73,1.74,1.75,1.76,1.77,1.78,1.79,1.8,1.81,1.82,1.83,1.84,1.85,1.86,1.87,1.88,1.89,1.9,1.91,1.92,1.93,1.94,1.95,1.96,1.97,1.98,1.99,2.0,2.01,2.02,2.03,2.04,2.05,2.06,2.07,2.08,2.09,2.1], "grid": true, "gridColor": "#111111", "gridWidth": 1.4, "gridOpacity": 1, "labels": false, "ticks": false, "title": null}},
     "x2": {"field": "k2"},
     "y": {"field": "lo", "type": "quantitative", "scale": {"domain": [20, 50], "nice": false, "zero": false},
      "axis": {"orient": "right", "values": [20,21,22,23,24,25,26,27,28,29,30,31,32,33,34,35,36,37,38,39,40,41,42,43,44,45,46,47,48,49,50], "grid": true, "gridColor": "#111111", "gridWidth": 1.4, "gridOpacity": 1, "labels": false, "ticks": false, "title": null}},
     "y2": {"field": "hi"},
     "opacity": {"field": "a", "type": "quantitative", "scale": {"domain": [0.68, 0.8, 0.9, 1.0], "range": [0, 0.25, 0.55, 1]}, "legend": null}
    }},
   {"data": {"name": "stack"}, "transform": [{"filter": "datum.p == 'b'"}],
    "mark": {"type": "rect", "fillOpacity": 0, "strokeWidth": 0, "clip": true},
    "encoding": {
     "x": {"field": "k", "type": "quantitative", "scale": {"domain": [1.6, 2.1], "nice": false, "zero": false}, "axis": null},
     "x2": {"field": "k2"},
     "y": {"field": "lo", "type": "quantitative", "scale": {"domain": [20, 50], "nice": false, "zero": false}, "axis": null},
     "y2": {"field": "hi"},
     "color": {"field": "a", "type": "quantitative", "scale": {"domain": [0.68, 0.6999, 0.7, 0.8, 0.9, 1.0], "range": ["#ffffff", "#ffffff", "#ececec", "#bfbfbf", "#737373", "#000000"]},
      "legend": {"orient": "none", "legendX": 95, "legendY": 404, "direction": "horizontal", "gradientLength": 190, "gradientThickness": 12, "gradientStrokeColor": "black", "gradientStrokeWidth": 3, "values": [0.7, 0.8, 0.9, 0.9999], "format": ".1f", "labelFont": "Liberation Sans", "labelFontSize": 11, "labelOffset": 22, "labelAlign": "center", "labelColor": "black", "title": "Normalised Amplitude", "titleOrient": "bottom", "titleAnchor": "middle", "titleFont": "Liberation Sans", "titleFontSize": 16, "titleFontWeight": "normal", "titlePadding": 14, "titleColor": "black"}}
    }},
   {"data": {"name": "box"},
    "mark": {"type": "rect", "fillOpacity": 0, "stroke": "black", "strokeWidth": 4},
    "encoding": {
     "x": {"field": "k1", "type": "quantitative", "scale": {"domain": [1.6, 2.1], "nice": false, "zero": false},
      "axis": {"orient": "bottom", "values": [1.6,1.65,1.7,1.75,1.8,1.85,1.9,1.95,2.0,2.05,2.1], "labelExpr": "round(datum.value*100) % 10 == 0 ? format(datum.value, '.1f') : ''", "tickSize": {"condition": {"test": "round(datum.value*100) % 10 == 0", "value": 10}, "value": 5}, "labelPadding": 12, "title": "Vp/Vs", "titleX": 184, "titleY": 43, "titleBaseline": "middle", "titleAlign": "center", "titleFontSize": 14}},
     "x2": {"field": "k2"},
     "y": {"field": "d1", "type": "quantitative", "scale": {"domain": [20, 50], "nice": false, "zero": false},
      "axis": {"orient": "left", "values": [20,25,30,35,40,45,50], "labelExpr": "datum.value % 10 == 0 ? '' + datum.value : ''", "tickSize": {"condition": {"test": "datum.value % 10 == 0", "value": 10}, "value": 5}, "labelPadding": 4, "title": null}},
     "y2": {"field": "d2"}
    }},
   {"data": {"name": "best"}, "transform": [{"filter": "datum.p == 'b'"}],
    "mark": {"type": "point", "shape": "M0,-1A0.7,1,0,1,1,0,1A0.7,1,0,1,1,0,-1Z", "size": 170, "filled": true, "color": "white", "opacity": 1},
    "encoding": {
     "x": {"field": "k", "type": "quantitative", "scale": {"domain": [1.6, 2.1], "nice": false, "zero": false}, "axis": null},
     "y": {"field": "d", "type": "quantitative", "scale": {"domain": [20, 50], "nice": false, "zero": false}, "axis": null}
    }}
  ]
 }
]
}
